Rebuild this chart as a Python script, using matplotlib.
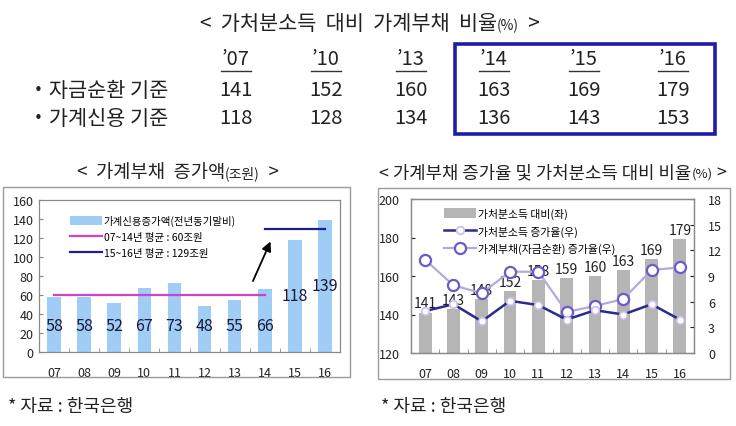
import matplotlib
matplotlib.use('Agg')
import matplotlib.pyplot as plt
from matplotlib.patches import Rectangle
from matplotlib.lines import Line2D
import numpy as np

plt.rcParams['font.family'] = ['Noto Sans CJK KR', 'DejaVu Sans']

# ---------------- data ----------------
table_years = ["’07", "’10", "’13", "’14", "’15", "’16"]
table_rows = ["・자금순환 기준", "・가계신용 기준"]
ratio_flow = [141, 152, 160, 163, 169, 179]
ratio_credit = [118, 128, 134, 136, 143, 153]

years = ['07', '08', '09', '10', '11', '12', '13', '14', '15', '16']
debt_increase = [58, 58, 52, 67, 73, 48, 55, 66, 118, 139]
avg_0714 = 60
avg_1516 = 129

ratio_bars = [141, 143, 148, 152, 158, 159, 160, 163, 169, 179]
income_growth = [4.9, 5.7, 3.7, 6.1, 5.6, 3.9, 5.0, 4.5, 5.7, 3.9]
debt_growth = [10.9, 7.9, 7.0, 9.5, 9.5, 4.8, 5.5, 6.3, 9.7, 10.0]

# ---------------- figure ----------------
W, H = 736, 427
fig = plt.figure(figsize=(W / 100, H / 100), dpi=100)
fig.patch.set_facecolor('white')


def fx(x):
    return x / W


def fy(y):
    return 1 - y / H


def pieces(xc, y, parts, color='#222222'):
    """Draw text pieces of different sizes centred at xc (pixel), baseline y (pixel from top)."""
    r = fig.canvas.get_renderer()
    objs = []
    for s, size in parts:
        t = fig.text(0, fy(y), s, fontsize=size, va='baseline', ha='left', color=color)
        objs.append(t)
    widths = [t.get_window_extent(r).width for t in objs]
    total = sum(widths)
    x = xc - total / 2
    for t, w in zip(objs, widths):
        t.set_x(fx(x))
        x += w


# ---------------- top title & table ----------------
pieces(370, 30, [('<  가처분소득  대비  가계부채  비율', 15), ('(%)', 10), ('  >', 15)])

col_x = [236, 326, 411, 494, 584, 673]
for cx, lab in zip(col_x, table_years):
    fig.text(fx(cx), fy(60), lab, fontsize=14.5, ha='center', va='center', color='#222222')
    fig.add_artist(Line2D([fx(cx - 15), fx(cx + 15)], [fy(72), fy(72)], color='#333333', lw=1.0))

for ry, lab, vals in zip([91, 119], table_rows, [ratio_flow, ratio_credit]):
    fig.text(fx(28), fy(ry), lab, fontsize=15, ha='left', va='center', color='#222222')
    for cx, v in zip(col_x, vals):
        fig.text(fx(cx), fy(ry), str(v), fontsize=14.5, ha='center', va='center', color='#222222')

fig.add_artist(Rectangle((fx(455), fy(135)), fx(715) - fx(455), fy(45) - fy(135),
                         fill=False, edgecolor='#1c1ca8', lw=2.6))

# ---------------- sub titles ----------------
pieces(178, 178, [('<  가계부채  증가액', 13.5), ('(조원)', 10), ('  >', 13.5)])
pieces(553, 178, [('< 가계부채 증가율 및 가처분소득 대비 비율', 12.8), ('(%)', 9.5), (' >', 12.8)])

# outer frames
fig.add_artist(Rectangle((fx(3), fy(378)), fx(350) - fx(3), fy(188) - fy(378),
                         fill=False, edgecolor='#9a9a9a', lw=1.0))
fig.add_artist(Rectangle((fx(378), fy(380)), fx(730) - fx(378), fy(189) - fy(380),
                         fill=False, edgecolor='#9a9a9a', lw=1.0))

x = np.arange(len(years))

# ---------------- left chart ----------------
ax1 = fig.add_axes([fx(39), fy(353), fx(340) - fx(39), fy(201) - fy(353)])
bars1 = ax1.bar(x, debt_increase, width=0.45, color='#9fcdf6', label='가계신용증가액(전년동기말비)', zorder=2)
i07, i14, i16 = years.index('07'), years.index('14'), years.index('16')
ln1, = ax1.plot([x[i07], x[i14]], [avg_0714] * 2, color='#cc44cc', lw=1.6,
                label=f'07~14년 평균 : {avg_0714}조원', zorder=3)
ln2, = ax1.plot([x[i14], x[i16]], [avg_1516] * 2, color='#1e1e8c', lw=1.6,
                label=f'15~16년 평균 : {avg_1516}조원', zorder=3)
ax1.annotate('', xy=(x[i14] + 0.23, avg_1516 - 10), xytext=(x[i14] - 0.43, avg_0714 + 12),
             arrowprops=dict(arrowstyle='-|>', color='black', lw=1.3, mutation_scale=14))
for xi, v in zip(x, debt_increase):
    ly = v / 2 if v >= 100 else 28
    ax1.text(xi, ly, str(v), ha='center', va='center', fontsize=11.5, color='#1a1a3a', zorder=4)

ax1.set_xlim(-0.5, len(years) - 0.5)
ax1.set_ylim(0, 160)
ax1.set_yticks(np.arange(0, 161, 20))
ax1.set_xticks(x)
ax1.set_xticklabels(years)
ax1.set_xticks(np.arange(-0.5, len(years), 1), minor=True)
ax1.tick_params(axis='x', which='major', length=0, pad=10, labelsize=9, colors='#222222')
ax1.tick_params(axis='x', which='minor', length=3, direction='in', color='#888888')
ax1.tick_params(axis='y', length=3, direction='in', labelsize=9, colors='#222222', pad=4)
ax1.tick_params(axis='y', color='#888888')
for s in ax1.spines.values():
    s.set_color('#8a8a8a')
    s.set_linewidth(0.9)
ax1.legend([bars1, ln1, ln2], [bars1.get_label(), ln1.get_label(), ln2.get_label()],
           loc='upper left', bbox_to_anchor=(0.09, 0.93), frameon=False, fontsize=7.5,
           handlelength=3.0, handleheight=1.0, labelspacing=0.55, borderaxespad=0,
           handletextpad=0.2)

# ---------------- right chart ----------------
ax2 = fig.add_axes([fx(411), fy(354), fx(694) - fx(411), fy(200) - fy(354)])
ax2.bar(x, ratio_bars, width=0.45, color='#b5b5b5', label='가처분소득 대비(좌)', zorder=2)
for xi, v in zip(x, ratio_bars):
    ax2.annotate(str(v), (xi, v), xytext=(0, 1.5), textcoords='offset points',
                 ha='center', va='bottom', fontsize=10, color='#222222', zorder=3)
ax2.set_xlim(-0.5, len(years) - 0.5)
ax2.set_ylim(120, 200)
ax2.set_yticks(np.arange(120, 201, 20))
ax2.set_xticks(x)
ax2.set_xticklabels(years)
ax2.set_xticks(np.arange(-0.5, len(years), 1), minor=True)
ax2.tick_params(axis='x', which='major', length=0, pad=10, labelsize=9, colors='#222222')
ax2.tick_params(axis='x', which='minor', length=3, direction='in', color='#888888')
ax2.tick_params(axis='y', length=3, direction='in', labelsize=9, colors='#222222', pad=8)

ax3 = ax2.twinx()
ax3.plot(x, income_growth, color='#2b2b8e', lw=1.8, marker='o', ms=5.5, mfc='white',
         mec='#c9bdea', mew=1.2, label='가처분소득 증가율(우)', zorder=4)
ax3.plot(x, debt_growth, color='#b9a8de', lw=1.6, marker='o', ms=8, mfc='white',
         mec='#6b5bc8', mew=1.6, label='가계부채(자금순환) 증가율(우)', zorder=3)
ax3.set_ylim(0, 18)
ax3.set_yticks(np.arange(0, 19, 3))
ax3.tick_params(axis='y', length=3, direction='in', labelsize=9, colors='#222222', pad=10)
for a in (ax2, ax3):
    for s in a.spines.values():
        s.set_color('#8a8a8a')
        s.set_linewidth(0.9)

h2, l2 = ax2.get_legend_handles_labels()
h3, l3 = ax3.get_legend_handles_labels()
ax3.legend(h2 + h3, l2 + l3, loc='upper left', bbox_to_anchor=(0.1, 0.97), frameon=False,
           fontsize=7.8, handlelength=3.0, handleheight=1.0, labelspacing=0.6,
           borderaxespad=0, handletextpad=0.2)

# ---------------- footnotes ----------------
fig.text(fx(8), fy(407), '* 자료 : 한국은행', fontsize=13, ha='left', va='center', color='#222222')
fig.text(fx(381), fy(407), '* 자료 : 한국은행', fontsize=13, ha='left', va='center', color='#222222')

fig.savefig('out.png', dpi=100)
